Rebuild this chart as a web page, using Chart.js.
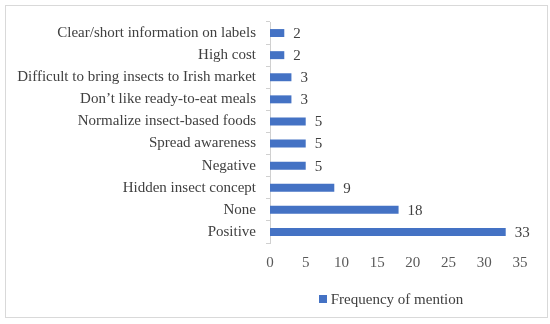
<!DOCTYPE html>
<html><head><meta charset="utf-8">
<script src="https://cdn.jsdelivr.net/npm/chart.js@4"></script>
<style>html,body{margin:0;padding:0;background:#fff}#wrap{width:550px;height:324px;position:relative}</style>
</head><body><div id="wrap"><canvas id="c" width="550" height="324"></canvas></div>
<script>
const categories = ["Clear/short information on labels","High cost","Difficult to bring insects to Irish market","Don\u2019t like ready-to-eat meals","Normalize insect-based foods","Spread awareness","Negative","Hidden insect concept","None","Positive"];
const frequency = [2,2,3,3,5,5,5,9,18,33];
const xTicks = [0,5,10,15,20,25,30,35];
const seriesName = "Frequency of mention";

const FONT = "'Liberation Serif', 'DejaVu Serif', serif";
const BLUE = "#4472C4";
const TEXT = "#404040";

const extras = {
  id: 'extras',
  afterDraw(chart) {
    const ctx = chart.ctx;
    ctx.save();
    // frame
    ctx.strokeStyle = '#d9d9d9'; ctx.lineWidth = 1;
    ctx.strokeRect(5.5, 5.5, 542, 312);
    // value labels
    const meta = chart.getDatasetMeta(0);
    ctx.font = "15px " + FONT; ctx.fillStyle = TEXT;
    ctx.textBaseline = 'middle'; ctx.textAlign = 'left';
    meta.data.forEach((bar, i) => {
      ctx.fillText(String(chart.data.datasets[0].data[i]), bar.x + 9, bar.y + 1);
    });
    // legend
    const ca = chart.chartArea;
    const cx = (ca.left + ca.right) / 2 - 4;
    const ly = 299;
    const tw = ctx.measureText(seriesName).width;
    const box = 8, gap = 4;
    const total = box + gap + tw;
    const x0 = cx - total / 2;
    ctx.fillStyle = BLUE;
    ctx.fillRect(Math.round(x0), ly - 4, box, box);
    ctx.fillStyle = TEXT;
    ctx.fillText(seriesName, x0 + box + gap, ly + 1);
    ctx.restore();
  }
};

new Chart(document.getElementById('c'), {
  type: 'bar',
  data: { labels: categories, datasets: [{ label: seriesName, data: frequency, backgroundColor: BLUE, categoryPercentage: 1, barPercentage: 0.36 }] },
  options: {
    indexAxis: 'y', responsive: false, animation: false,
    layout: { padding: { left: 0, right: 30, top: 22, bottom: 40 } },
    plugins: { legend: { display: false }, tooltip: { enabled: false } },
    scales: {
      x: {
        min: 0, max: 35,
        afterBuildTicks: (s) => { s.ticks = xTicks.map(v => ({ value: v })); },
        afterFit: (s) => { s.height = 41; },
        grid: { display: false, drawTicks: false },
        border: { display: false },
        ticks: { padding: 11, color: '#595959', font: { family: FONT, size: 15 } }
      },
      y: {
        afterFit: (s) => { s.width = 270; },
        grid: { display: true, drawOnChartArea: false, drawTicks: true, tickLength: 4, color: '#d0d0d0', offset: true },
        border: { display: true, color: '#d0d0d0' },
        ticks: { padding: 10, color: TEXT, font: { family: FONT, size: 15 } }
      }
    }
  },
  plugins: [extras]
});
</script></body></html>
